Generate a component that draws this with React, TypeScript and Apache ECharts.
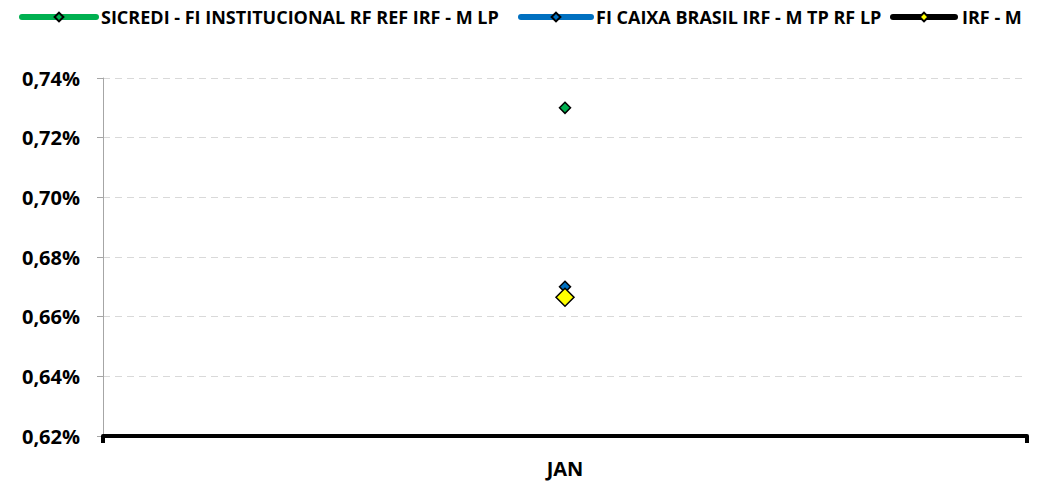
import React, { useEffect, useRef } from "react";
import * as echarts from "echarts";

const categories = ["JAN"];
const seriesNames = [
  "SICREDI - FI INSTITUCIONAL RF REF IRF - M LP",
  "FI CAIXA BRASIL IRF - M TP RF LP",
  "IRF - M",
];
const sicrediValues = [0.73];
const caixaValues = [0.67];
const irfmValues = [0.6665];

const yMin = 0.62;
const yMax = 0.74;
const yInterval = 0.02;

const FONT = "'Open Sans', 'Noto Sans', sans-serif";

export default function App() {
  const ref = useRef<HTMLDivElement>(null);
  useEffect(() => {
    if (!ref.current) return;
    const chart = echarts.init(ref.current, undefined, { renderer: "svg" });
    const mk = (name: string, data: number[], line: string, fill: string, size: number, z: number) => ({
      name,
      type: "line",
      data,
      symbol: "diamond",
      symbolSize: size,
      z,
      lineStyle: { color: line, width: 6, cap: "round" },
      itemStyle: { color: fill, borderColor: "#000", borderWidth: 1.5 },
    });
    const legendText = { fontFamily: FONT, fontWeight: "bold", fontSize: 18, color: "#000" };
    const legendBase = {
      top: 3,
      itemHeight: 11,
      lineStyle: { width: 6, cap: "round" },
      textStyle: legendText,
    };
    chart.setOption({
      animation: false,
      backgroundColor: "#fff",
      textStyle: { fontFamily: FONT },
      legend: [
        { ...legendBase, left: 14, itemWidth: 74, data: [seriesNames[0]] },
        { ...legendBase, left: 513, itemWidth: 70, data: [seriesNames[1]] },
        {
          ...legendBase,
          left: 885,
          itemWidth: 62,
          data: [seriesNames[2]],
          textStyle: { ...legendText, padding: [0, 0, 0, 2] },
        },
      ],
      grid: { left: 103, right: 17, top: 78, bottom: 45 },
      xAxis: {
        type: "category",
        data: categories,
        boundaryGap: true,
        axisLine: { lineStyle: { color: "#000", width: 4 } },
        axisTick: { show: true, length: 7, lineStyle: { color: "#000", width: 4 } },
        axisLabel: { fontFamily: FONT, fontWeight: "bold", fontSize: 20, color: "#000", margin: 22 },
        z: 10,
      },
      yAxis: {
        type: "value",
        min: yMin,
        max: yMax,
        interval: yInterval,
        axisLine: { show: true, lineStyle: { color: "#a6a6a6", width: 1 } },
        axisTick: { show: true, length: 6, lineStyle: { color: "#a6a6a6" } },
        axisLabel: {
          fontFamily: FONT,
          fontWeight: "bold",
          fontSize: 20,
          color: "#000",
          margin: 23,
          formatter: (v: number) => v.toFixed(2).replace(".", ",") + "%",
        },
        splitLine: { lineStyle: { color: "#d9d9d9", type: [7, 5], width: 1 } },
      },
      series: [
        mk(seriesNames[0], sicrediValues, "#00b050", "#00b050", 11, 3),
        mk(seriesNames[1], caixaValues, "#0070c0", "#0070c0", 11, 4),
        mk(seriesNames[2], irfmValues, "#000000", "#ffff00", 18, 5),
      ],
    });
    return () => chart.dispose();
  }, []);
  return (
    <div
      ref={ref}
      style={{ position: "fixed", left: 0, top: 0, width: 1044, height: 481 }}
    />
  );
}
